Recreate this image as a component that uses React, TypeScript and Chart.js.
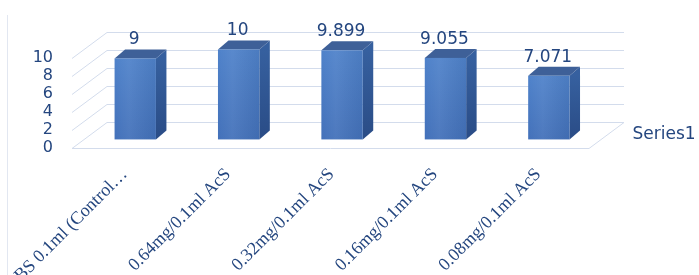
import React, { useEffect, useRef } from "react";
import { Chart, registerables } from "chart.js";

Chart.register(...registerables);

const categories = [
  "PBS 0.1ml (Control…",
  "0.64mg/0.1ml AcS",
  "0.32mg/0.1ml AcS",
  "0.16mg/0.1ml AcS",
  "0.08mg/0.1ml AcS",
];
const values = [9, 10, 9.899, 9.055, 7.071];
const valueLabels = ["9", "10", "9.899", "9.055", "7.071"];
const yTicks = [0, 2, 4, 6, 8, 10];
const seriesName = "Series1";

const TEXT = "#24467F";
const GRID = "#D3DCEC";
const DEPTH_X = 35;
const DEPTH_Y = -26;
const BAR_POS = 0.33;
const BAR_DX = 10.5;
const BAR_DY = -9;

const threeD = {
  id: "threeD",
  beforeDatasetsDraw(chart: any) {
    const { ctx, chartArea } = chart;
    const y = chart.scales.y;
    const L = chartArea.left;
    const R = chartArea.right;
    ctx.save();
    ctx.strokeStyle = "#E2E7F1";
    ctx.lineWidth = 1;
    ctx.beginPath();
    ctx.moveTo(7.5, 15);
    ctx.lineTo(7.5, 275);
    ctx.stroke();

    ctx.strokeStyle = GRID;
    ctx.lineWidth = 1;
    for (const v of yTicks) {
      const py = Math.round(y.getPixelForValue(v)) + 0.5;
      ctx.beginPath();
      ctx.moveTo(L, py);
      ctx.lineTo(L + DEPTH_X, py + DEPTH_Y);
      ctx.lineTo(R + DEPTH_X, py + DEPTH_Y);
      ctx.stroke();
    }
    const p0 = Math.round(y.getPixelForValue(0)) + 0.5;
    ctx.beginPath();
    ctx.moveTo(L, p0);
    ctx.lineTo(R, p0);
    ctx.lineTo(R + DEPTH_X, p0 + DEPTH_Y);
    ctx.stroke();
    ctx.restore();
  },
  afterDatasetsDraw(chart: any) {
    const { ctx, chartArea } = chart;
    const y = chart.scales.y;
    const meta = chart.getDatasetMeta(0);
    const fx = DEPTH_X * BAR_POS;
    const fy = DEPTH_Y * BAR_POS;
    ctx.save();
    meta.data.forEach((bar: any, i: number) => {
      const x0 = bar.x - bar.width / 2 + fx;
      const x1 = bar.x + bar.width / 2 + fx;
      const yt = bar.y + fy;
      const yb = bar.base + fy;
      const sg = ctx.createLinearGradient(0, yt, 0, yb);
      sg.addColorStop(0, "#36609F");
      sg.addColorStop(1, "#2A4C86");
      ctx.fillStyle = sg;
      ctx.beginPath();
      ctx.moveTo(x1, yt);
      ctx.lineTo(x1 + BAR_DX, yt + BAR_DY);
      ctx.lineTo(x1 + BAR_DX, yb + BAR_DY);
      ctx.lineTo(x1, yb);
      ctx.closePath();
      ctx.fill();
      ctx.fillStyle = "#3E6098";
      ctx.beginPath();
      ctx.moveTo(x0, yt);
      ctx.lineTo(x1, yt);
      ctx.lineTo(x1 + BAR_DX, yt + BAR_DY);
      ctx.lineTo(x0 + BAR_DX, yt + BAR_DY);
      ctx.closePath();
      ctx.fill();
      const fg = ctx.createLinearGradient(0, yt, 0, yb);
      fg.addColorStop(0, "#4F82CA");
      fg.addColorStop(1, "#4371BA");
      ctx.fillStyle = fg;
      ctx.fillRect(x0, yt, x1 - x0, yb - yt);
      const hg = ctx.createLinearGradient(x0, 0, x1, 0);
      hg.addColorStop(0, "rgba(255,255,255,0)");
      hg.addColorStop(0.35, "rgba(255,255,255,0.06)");
      hg.addColorStop(1, "rgba(0,0,0,0.05)");
      ctx.fillStyle = hg;
      ctx.fillRect(x0, yt, x1 - x0, yb - yt);
      ctx.fillStyle = TEXT;
      ctx.font = "17px 'DejaVu Sans'";
      ctx.textAlign = "center";
      ctx.textBaseline = "alphabetic";
      ctx.fillText(valueLabels[i], (x0 + x1) / 2 - 1, yt + BAR_DY - 5);
    });
    const p0 = y.getPixelForValue(0);
    ctx.fillStyle = TEXT;
    ctx.font = "17px 'DejaVu Sans'";
    ctx.textAlign = "left";
    ctx.textBaseline = "middle";
    ctx.fillText(seriesName, chartArea.right + DEPTH_X / 2 + 26, p0 + DEPTH_Y / 2);
    ctx.restore();
  },
};

export default function App() {
  const ref = useRef<HTMLCanvasElement | null>(null);
  useEffect(() => {
    if (!ref.current) return;
    const chart = new Chart(ref.current, {
      type: "bar",
      data: {
        labels: categories,
        datasets: [
          {
            label: seriesName,
            data: values,
            backgroundColor: "rgba(0,0,0,0)",
            borderWidth: 0,
            barPercentage: 0.4,
            categoryPercentage: 1,
          },
        ],
      },
      options: {
        animation: false,
        responsive: false,
        devicePixelRatio: 1,
        layout: { padding: { left: 0, right: 110, top: 58, bottom: 0 } },
        plugins: { legend: { display: false }, tooltip: { enabled: false } },
        scales: {
          x: {
            grid: { display: false, drawTicks: false },
            border: { display: false },
            ticks: {
              autoSkip: false,
              minRotation: 45,
              maxRotation: 45,
              padding: 16,
              labelOffset: 1,
              color: TEXT,
              font: { family: "'Liberation Serif'", size: 18 },
            },
            afterFit: (s: any) => {
              s.height = 127;
              s.paddingLeft = 0;
              s.paddingRight = 0;
            },
          },
          y: {
            min: 0,
            max: 10,
            grid: { display: false, drawTicks: false },
            border: { display: false },
            afterBuildTicks: (s: any) => {
              s.ticks = yTicks.map((v) => ({ value: v }));
            },
            ticks: {
              autoSkip: false,
              stepSize: 2,
              padding: 19,
              color: TEXT,
              font: { family: "'DejaVu Sans'", size: 16 },
            },
            afterFit: (s: any) => {
              s.width = 72;
            },
          },
        },
      },
      plugins: [threeD],
    });
    return () => chart.destroy();
  }, []);
  return (
    <div style={{ position: "fixed", left: 0, top: 0, width: 699, height: 275, background: "#fff" }}>
      <canvas ref={ref} width={699} height={275} />
    </div>
  );
}
